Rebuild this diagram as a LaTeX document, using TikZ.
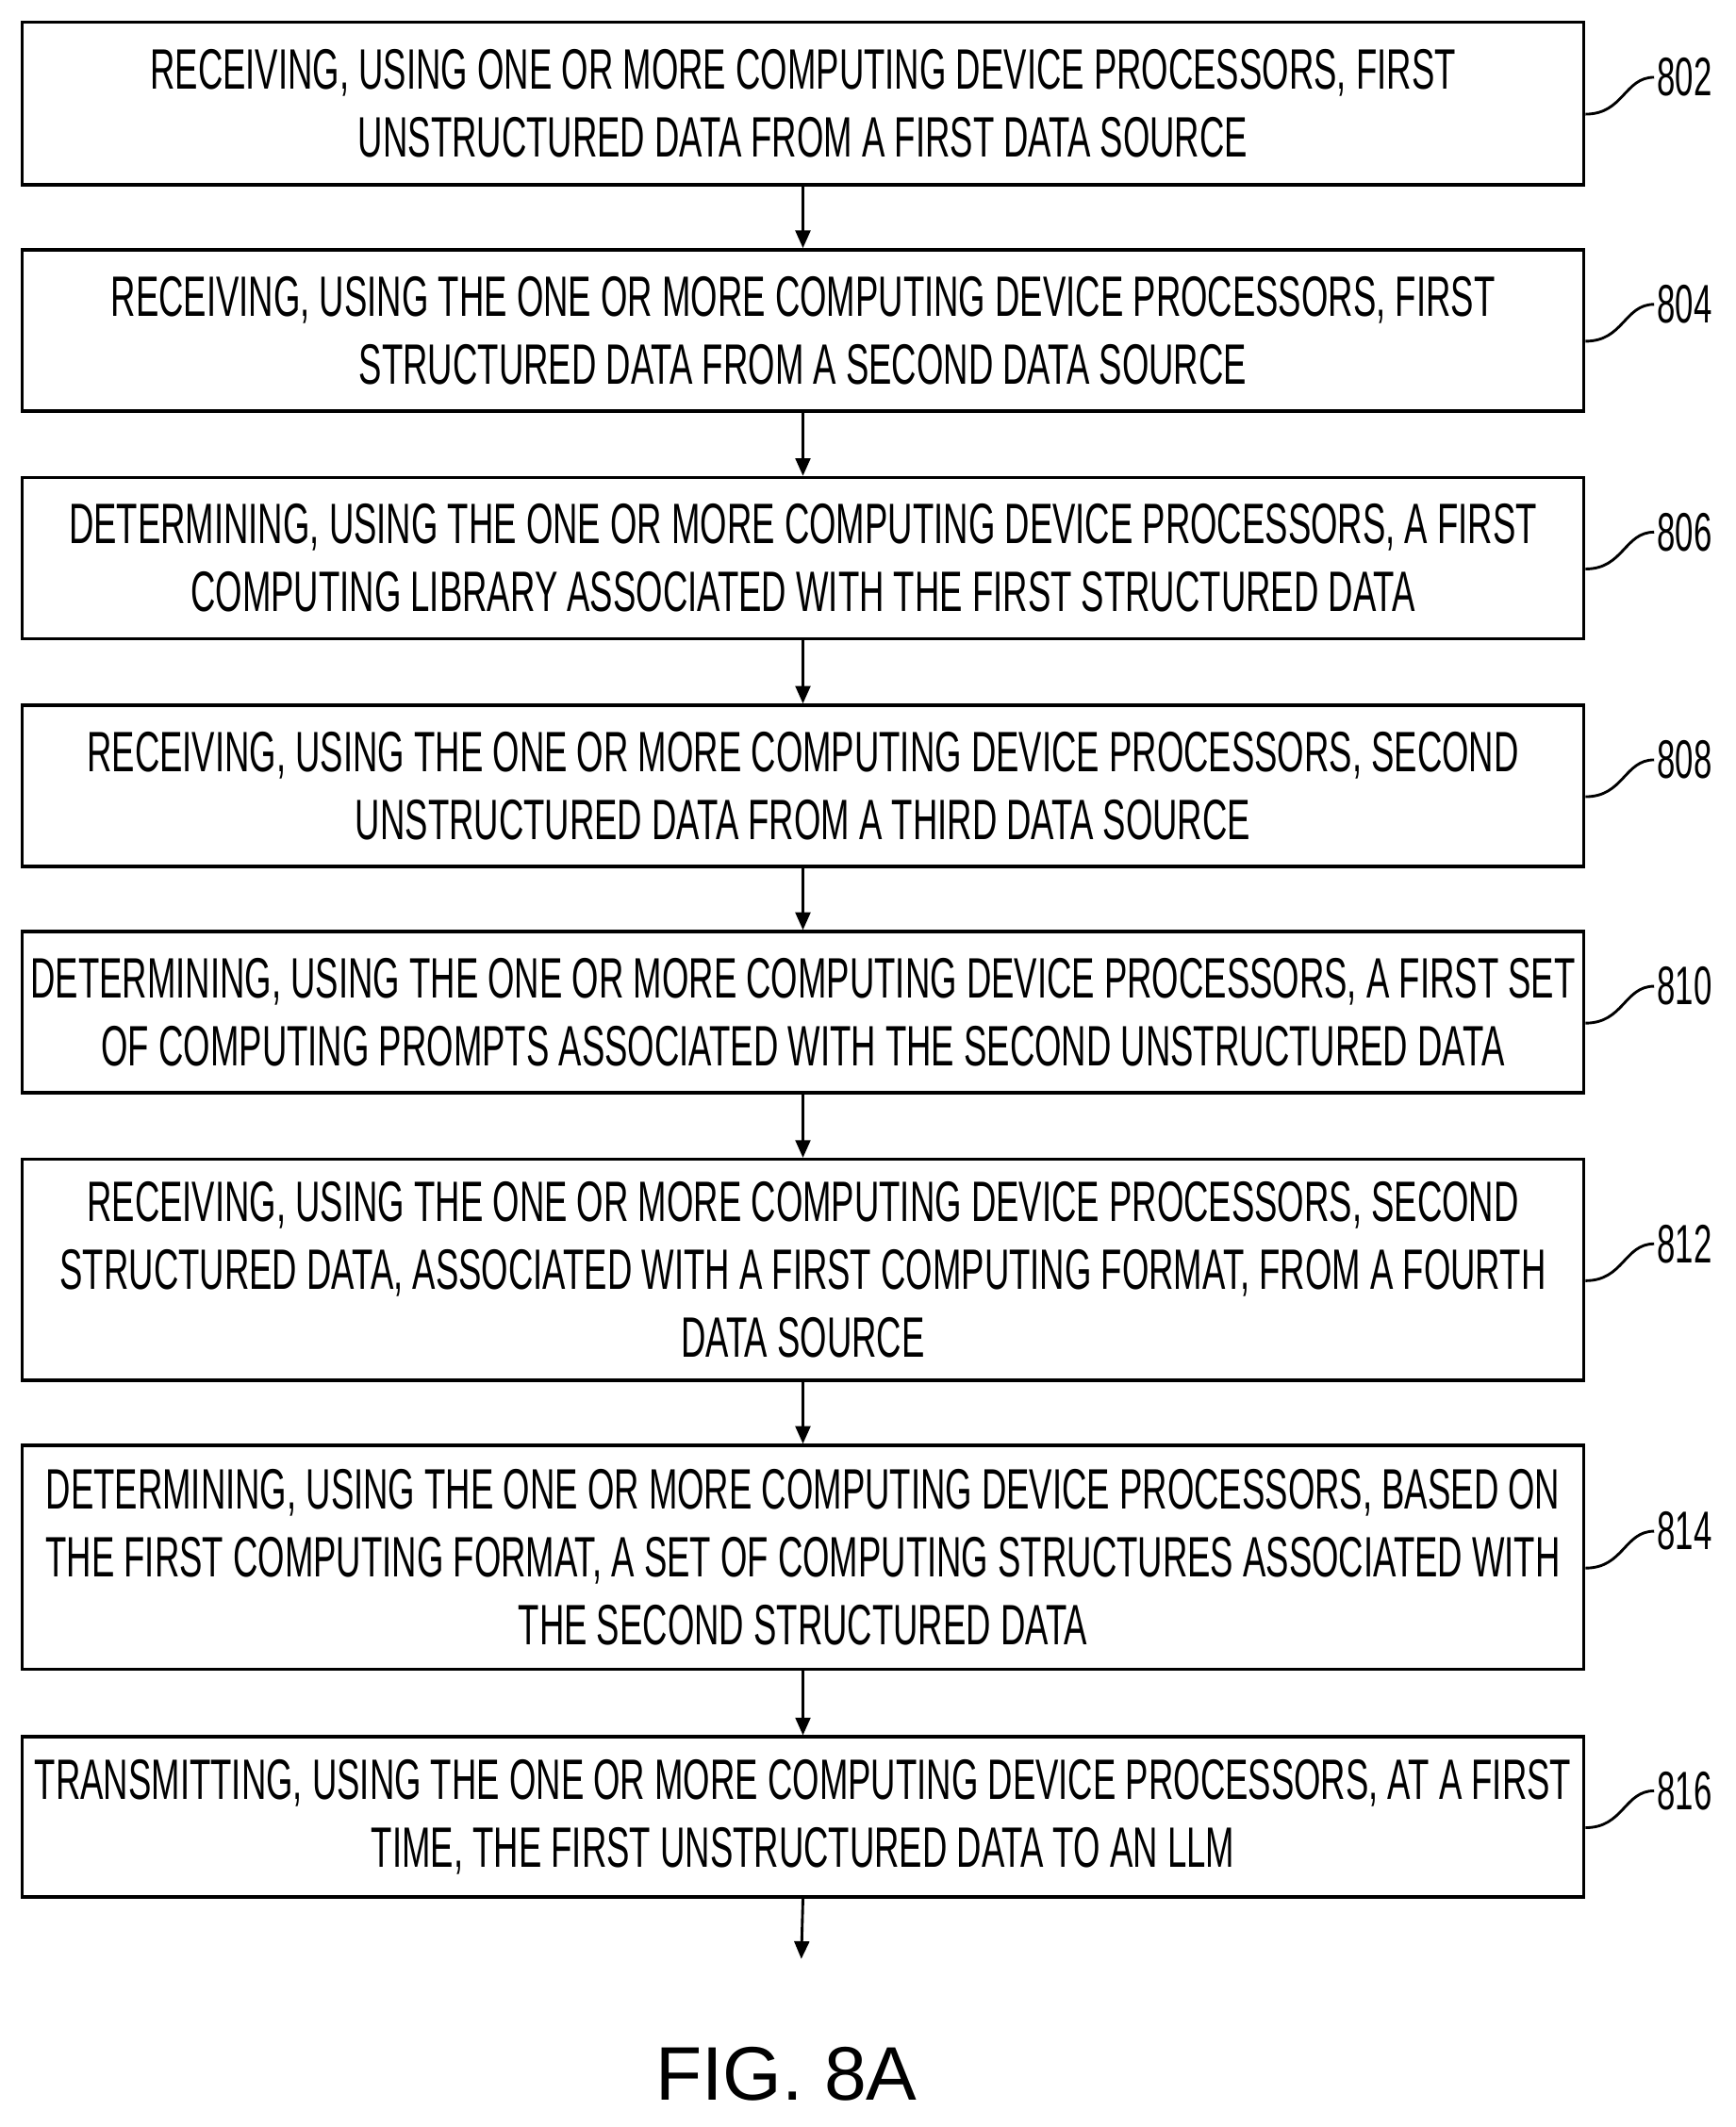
\documentclass[tikz,border=0pt]{standalone}
\usepackage{fontspec}
\setmainfont[FakeStretch=0.605]{Liberation Sans}
\newfontfamily\figfont{Liberation Sans}
\usetikzlibrary{arrows.meta}
\begin{document}
\begin{tikzpicture}[x=1pt,y=-1pt,
  stepbox/.style={draw,line width=2.4pt,minimum width=1152pt,anchor=north west,inner sep=0pt,align=center,font=\fontsize{42}{50}\selectfont},
  arr/.style={line width=2pt,-{Triangle[length=13pt,width=11pt]}},
  lbl/.style={font=\fontsize{40}{44}\selectfont,anchor=west,inner sep=0pt},
  lead/.style={line width=2pt}]
\useasboundingbox (0,0) rectangle (1280,1569);
\def\bx#1#2#3#4#5{\node[stepbox,minimum height=#3pt] (#1) at (15,#2) {#4};
  \node[lbl] (l#1) at (1222,#2+#3/2-18) {#5};
  \draw[lead] ([yshift=-8pt]#1.east) .. controls +(28,0) and +(-22,0) .. ([xshift=-2pt]l#1.west);}
\bx{a}{15}{120}{RECEIVING, USING ONE OR MORE COMPUTING DEVICE PROCESSORS, FIRST\\UNSTRUCTURED DATA FROM A FIRST DATA SOURCE}{802}
\bx{b}{183}{119}{RECEIVING, USING THE ONE OR MORE COMPUTING DEVICE PROCESSORS, FIRST\\STRUCTURED DATA FROM A SECOND DATA SOURCE}{804}
\bx{c}{351}{119}{DETERMINING, USING THE ONE OR MORE COMPUTING DEVICE PROCESSORS, A FIRST\\COMPUTING LIBRARY ASSOCIATED WITH THE FIRST STRUCTURED DATA}{806}
\bx{d}{519}{119}{RECEIVING, USING THE ONE OR MORE COMPUTING DEVICE PROCESSORS, SECOND\\UNSTRUCTURED DATA FROM A THIRD DATA SOURCE}{808}
\bx{e}{686}{119}{DETERMINING, USING THE ONE OR MORE COMPUTING DEVICE PROCESSORS, A FIRST SET\\OF COMPUTING PROMPTS ASSOCIATED WITH THE SECOND UNSTRUCTURED DATA}{810}
\bx{f}{854}{163}{RECEIVING, USING THE ONE OR MORE COMPUTING DEVICE PROCESSORS, SECOND\\STRUCTURED DATA, ASSOCIATED WITH A FIRST COMPUTING FORMAT, FROM A FOURTH\\DATA SOURCE}{812}
\bx{g}{1065}{165}{DETERMINING, USING THE ONE OR MORE COMPUTING DEVICE PROCESSORS, BASED ON\\THE FIRST COMPUTING FORMAT, A SET OF COMPUTING STRUCTURES ASSOCIATED WITH\\THE SECOND STRUCTURED DATA}{814}
\bx{h}{1280}{118}{TRANSMITTING, USING THE ONE OR MORE COMPUTING DEVICE PROCESSORS, AT A FIRST\\TIME, THE FIRST UNSTRUCTURED DATA TO AN LLM}{816}
\foreach \p/\q in {a/b,b/c,c/d,d/e,e/f,f/g,g/h} \draw[arr] (\p.south) -- (\q.north);
\coordinate (end) at (591,1445);
\draw[arr] (h.south) -- (end);
\node[font=\figfont\fontsize{56}{60}\selectfont] (fig) at (580,1530) {FIG. 8A};
\end{tikzpicture}
\end{document}
